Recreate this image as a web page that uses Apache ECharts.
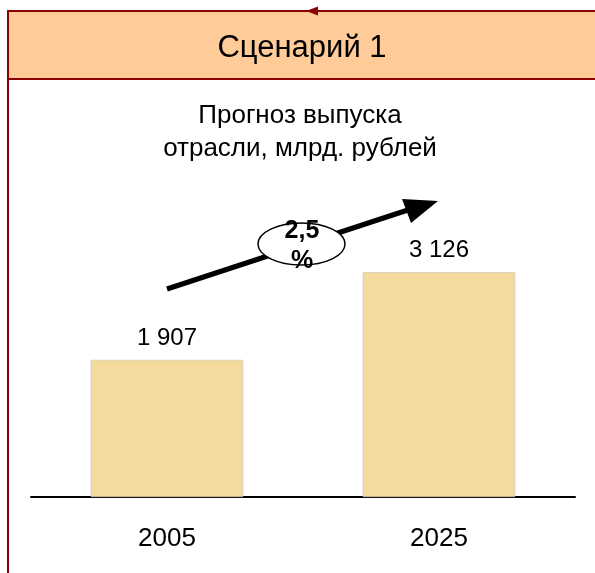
<!DOCTYPE html>
<html><head><meta charset="utf-8">
<script src="https://cdn.jsdelivr.net/npm/echarts@6/dist/echarts.min.js"></script>
<style>html,body{margin:0;padding:0;background:#fff}#c{width:595px;height:573px}</style>
</head><body><div id="c"></div>
<script>
const categories = ['2005', '2025'];
const values = [1907, 3126];
const valueLabels = ['1 907', '3 126'];
const growthText = ['2,5', '%'];
const headerText = 'Сценарий 1';
const titleText = 'Прогноз выпуска\nотрасли, млрд. рублей';

const chart = echarts.init(document.getElementById('c'), null, {renderer: 'canvas'});
const dark = '#8B0000';
const font = 'Liberation Sans, Arial, sans-serif';
chart.setOption({
  animation: false,
  title: {
    text: titleText, left: 295, top: 94, textAlign: 'center',
    textStyle: {fontFamily: font, fontSize: 26, fontWeight: 'normal', color: '#000', lineHeight: 33}
  },
  grid: {left: 31, right: 20, top: 137.5, bottom: 76},
  xAxis: {
    type: 'category', data: categories,
    axisLine: {lineStyle: {color: '#000', width: 2}},
    axisTick: {show: false},
    axisLabel: {fontFamily: font, fontSize: 26, color: '#000', margin: 29}
  },
  yAxis: {type: 'value', min: 0, max: 5000, show: false, splitLine: {show: false}},
  series: [{
    type: 'bar', data: values, barWidth: '56%',
    itemStyle: {color: '#F4DB9D', borderColor: '#C8BFA8', borderWidth: 0.6},
    label: {show: true, position: 'top', distance: 10, fontFamily: font, fontSize: 24, color: '#000',
      formatter: p => valueLabels[p.dataIndex]}
  }],
  graphic: [
    {type: 'rect', shape: {x: 8, y: 11, width: 600, height: 68}, style: {fill: '#FFCC99', stroke: dark, lineWidth: 2}, z: 1},
    {type: 'line', shape: {x1: 8, y1: 11, x2: 8, y2: 580}, style: {stroke: dark, lineWidth: 2}, z: 2},
    {type: 'polygon', shape: {points: [[306, 11], [318, 6.5], [318, 15.5]]}, style: {fill: dark}, z: 3},
    {type: 'text', x: 302, y: 48, style: {text: headerText, fontFamily: font, fontSize: 31, fill: '#000', align: 'center', verticalAlign: 'middle'}, z: 3},
    {type: 'line', shape: {x1: 167, y1: 289, x2: 414, y2: 208}, style: {stroke: '#000', lineWidth: 5}, z: 10},
    {type: 'polygon', shape: {points: [[438, 201], [411, 223], [402, 199]]}, style: {fill: '#000'}, z: 10},
    {type: 'ellipse', shape: {cx: 301.5, cy: 244, rx: 43.5, ry: 21}, style: {fill: '#fff', stroke: '#000', lineWidth: 1.5}, z: 11},
    {type: 'text', x: 302, y: 231, style: {text: growthText[0], fontFamily: font, fontSize: 25, fontWeight: 'bold', fill: '#000', align: 'center', verticalAlign: 'middle'}, z: 12},
    {type: 'text', x: 302, y: 261, style: {text: growthText[1], fontFamily: font, fontSize: 25, fontWeight: 'bold', fill: '#000', align: 'center', verticalAlign: 'middle'}, z: 12}
  ]
});
</script></body></html>
